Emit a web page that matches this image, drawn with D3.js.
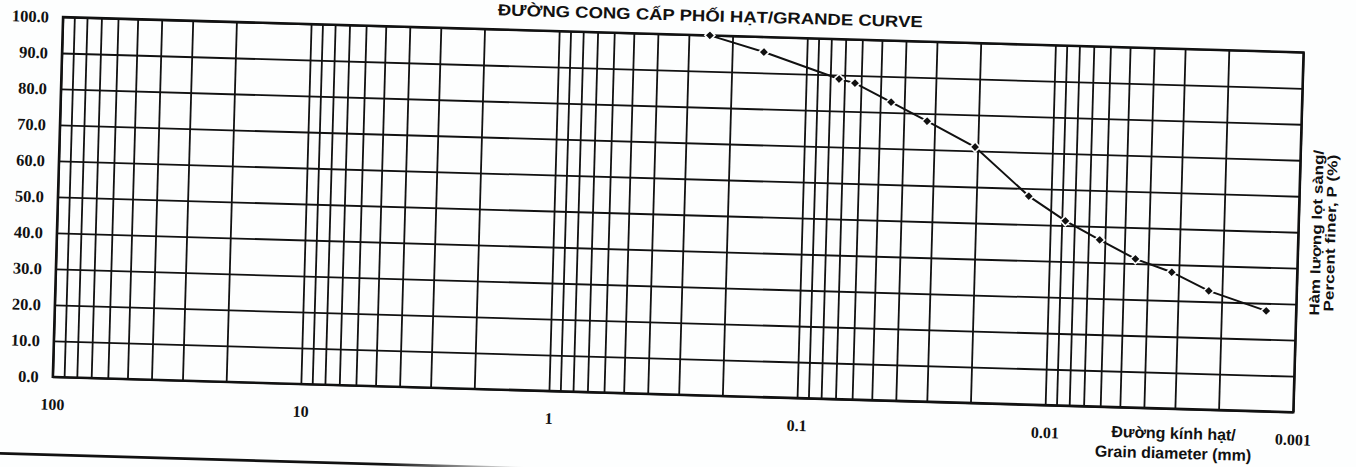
<!DOCTYPE html>
<html>
<head>
<meta charset="utf-8">
<script src="https://cdn.jsdelivr.net/npm/d3@7"></script>
<style>
body { margin: 0; background: #fdfefe; }
svg { display: block; }
</style>
</head>
<body>
<svg id="chart" width="1356" height="467"></svg>
<script>
// grain size distribution
const diameter = [0.247, 0.149, 0.0737, 0.0635, 0.0452, 0.0322, 0.0205, 0.0123, 0.0087, 0.0063, 0.0045, 0.0032, 0.00226, 0.00132];
const finer = [100, 95.8, 88.9, 87.9, 82.9, 77.9, 71.1, 57.9, 51.3, 46.3, 41.3, 37.9, 33.0, 27.9];
const xTicks = [100, 10, 1, 0.1, 0.01, 0.001];
const yTicks = [0, 10, 20, 30, 40, 50, 60, 70, 80, 90, 100];

const width = 1241;
const height = 360;
const tilt = 1.63; // the scanned sheet is a bit crooked

const chart = d3.select("#chart");
const g = chart.append("g")
	.attr("transform", "translate(63,17) rotate(" + tilt + ")");

const x = d3.scaleLog().domain([100, 0.001]).range([0, width]);
const y = d3.scaleLinear().domain([0, 100]).range([height, 0]);

// 1..9 in every decade
const gridValues = [100];
for (let e = 1; e >= -3; e--) {
	for (let k = 9; k >= 1; k--) gridValues.push(k * Math.pow(10, e));
}

const xGrid = g.append("g")
	.attr("transform", "translate(0," + height + ")")
	.call(d3.axisBottom(x).tickValues(gridValues).tickSize(-height).tickFormat(""));
const yGrid = g.append("g")
	.call(d3.axisLeft(y).tickValues(yTicks).tickSize(-width).tickFormat(""));
[xGrid, yGrid].forEach(function(a) {
	a.select(".domain").remove();
	a.selectAll("line").attr("stroke", "#111").attr("stroke-width", 1.8);
});

g.append("rect")
	.attr("width", width)
	.attr("height", height)
	.attr("fill", "none")
	.attr("stroke", "#111")
	.attr("stroke-width", 2.4);

// tick labels
const xLab = g.append("g")
	.attr("transform", "translate(0," + height + ")")
	.call(d3.axisBottom(x).tickValues(xTicks).tickSize(0).tickPadding(21.6).tickFormat(function(d) { return String(d); }));
xLab.select(".domain").remove();
xLab.selectAll("text")
	.attr("font-family", "'Liberation Serif', 'Times New Roman', serif")
	.attr("font-size", 16)
	.attr("font-weight", 600)
	.attr("fill", "#111");

const yLab = g.append("g")
	.call(d3.axisLeft(y).tickValues(yTicks).tickSize(0).tickPadding(14).tickFormat(d3.format(".1f")));
yLab.select(".domain").remove();
yLab.selectAll("text")
	.attr("font-family", "'Liberation Serif', 'Times New Roman', serif")
	.attr("font-weight", "bold")
	.attr("font-size", 16.5)
	.attr("fill", "#111");

// curve
const pts = diameter.map(function(d, i) { return [d, finer[i]]; });
g.append("path")
	.datum(pts)
	.attr("fill", "none")
	.attr("stroke", "#111")
	.attr("stroke-width", 2)
	.attr("d", d3.line().x(function(d) { return x(d[0]); }).y(function(d) { return y(d[1]); }));

g.append("g").selectAll("path")
	.data(pts)
	.enter()
	.append("path")
	.attr("d", "M0,-5L5,0L0,5L-5,0Z")
	.attr("fill", "#111")
	.attr("stroke", "#fdfefe")
	.attr("stroke-width", 1.6)
	.attr("transform", function(d) { return "translate(" + x(d[0]) + "," + y(d[1]) + ")"; });

// titles
g.append("text")
	.text("ĐƯỜNG CONG CẤP PHỐI HẠT/GRANDE CURVE")
	.attr("x", 647)
	.attr("y", -14)
	.attr("text-anchor", "middle")
	.attr("font-family", "'Liberation Sans Narrow', 'Liberation Sans', Arial, sans-serif")
	.attr("font-weight", "bold")
	.attr("font-size", 16)
	.attr("textLength", 425)
	.attr("lengthAdjust", "spacingAndGlyphs")
	.attr("fill", "#111");

const xTitle = g.append("text")
	.attr("text-anchor", "middle")
	.attr("font-family", "'Liberation Sans', Arial, sans-serif")
	.attr("font-weight", "bold")
	.attr("font-size", 16)
	.attr("fill", "#111");
xTitle.append("tspan").attr("x", 1122).attr("y", 390).text("Đường kính hạt/");
xTitle.append("tspan").attr("x", 1122).attr("y", 410).text("Grain diameter (mm)");

const yTitle = g.append("g")
	.attr("transform", "translate(0," + (height / 2) + ") rotate(-90)")
	.attr("text-anchor", "middle")
	.attr("font-family", "'Liberation Sans', Arial, sans-serif")
	.attr("font-weight", "bold")
	.attr("font-size", 14)
	.attr("fill", "#111");
yTitle.append("text").attr("x", 0).attr("y", 1264)
	.attr("textLength", 166).attr("lengthAdjust", "spacingAndGlyphs")
	.text("Hàm lượng lọt sàng/");
yTitle.append("text").attr("x", 0).attr("y", 1278)
	.attr("textLength", 157).attr("lengthAdjust", "spacingAndGlyphs")
	.text("Percent finer, P (%)");

// rule along the foot of the sheet
const grad = chart.append("defs").append("linearGradient")
	.attr("id", "fade")
	.attr("gradientUnits", "userSpaceOnUse")
	.attr("x1", -100).attr("x2", 480).attr("y1", 0).attr("y2", 0);
grad.append("stop").attr("offset", 0.75).attr("stop-color", "#111");
grad.append("stop").attr("offset", 1).attr("stop-color", "#111").attr("stop-opacity", 0);
g.append("line")
	.attr("x1", -100).attr("x2", 480)
	.attr("y1", 438).attr("y2", 438)
	.attr("stroke", "url(#fade)")
	.attr("stroke-width", 2.6);
</script>
</body>
</html>
